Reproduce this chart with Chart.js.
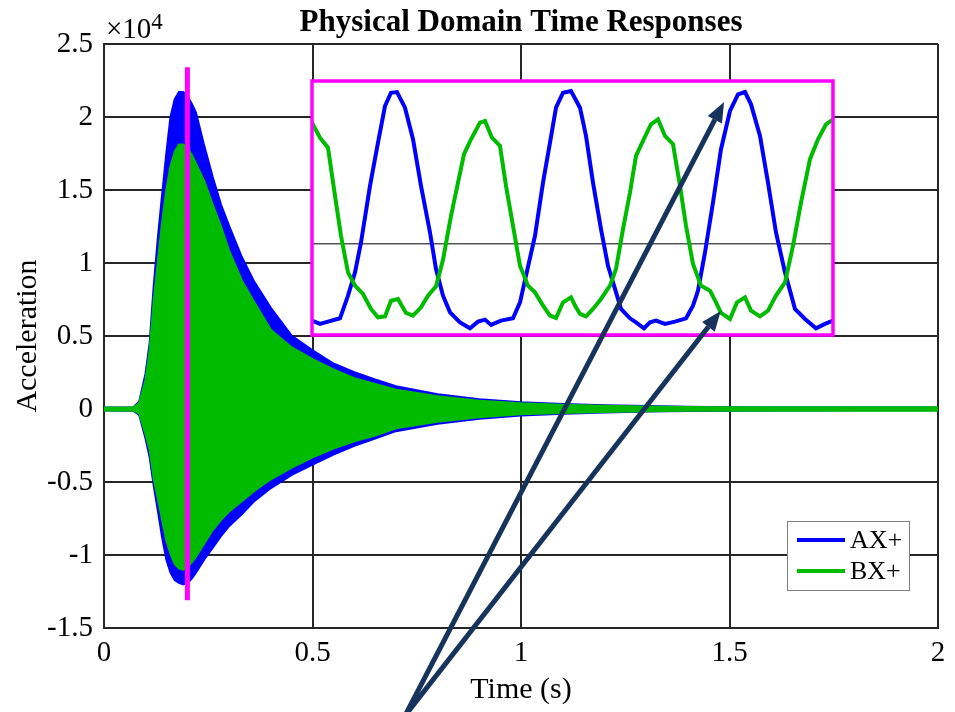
<!DOCTYPE html>
<html lang="en">
<head>
<meta charset="UTF-8">
<title>Physical Domain Time Responses</title>
<script src="https://cdn.jsdelivr.net/npm/chart.js"></script>
<style>
    html, body { margin: 0; padding: 0; background: #fff; }
    .wrap { position: relative; width: 955px; height: 712px; }
    .wrap canvas { position: absolute; left: 0; top: 0; }
    #insetChart { pointer-events: none; }
</style>
</head>
<body>
<div class="wrap">
    <canvas id="mainChart" width="955" height="712"></canvas>
    <canvas id="insetChart" width="955" height="712"></canvas>
</div>
<script>
// ---- data ----
const chartTitle = 'Physical Domain Time Responses';
const seriesNames = ['AX+', 'BX+'];
const xTicks = [0, 0.5, 1, 1.5, 2];
const yTicks = [-15000, -10000, -5000, 0, 5000, 10000, 15000, 20000, 25000];

// envelope of the dense oscillation (time in s, acceleration)
const tEnv = [0, 0.07, 0.085, 0.1, 0.11, 0.12, 0.13, 0.14, 0.15, 0.16, 0.17, 0.18, 0.19, 0.2, 0.21, 0.22, 0.24, 0.26, 0.28, 0.3,
              0.33, 0.36, 0.4, 0.45, 0.5, 0.55, 0.6, 0.65, 0.7, 0.8, 0.9, 1.0, 1.1, 1.2, 1.3, 1.4, 1.5, 1.6, 1.8, 2.0];
const axUpper = [80, 100, 500, 2400, 4500, 8500, 11800, 14700, 17500, 20000, 21200, 21700, 21700, 21400, 20900, 20300, 18000, 15900, 14000, 12500,
                 10400, 8700, 6900, 5000, 4000, 3100, 2500, 2000, 1550, 1000, 650, 450, 320, 240, 180, 140, 110, 90, 80, 80];
const axLower = [-80, -100, -400, -2000, -3300, -5300, -7000, -8800, -10300, -11200, -11700, -11900, -12000, -11900, -11600, -11200, -10300, -9500, -8700, -8000,
                 -7200, -6300, -5400, -4500, -3800, -3100, -2500, -2000, -1500, -1000, -650, -420, -300, -220, -160, -120, -100, -80, -70, -70];
const bxUpper = [80, 100, 400, 2000, 4000, 7500, 10200, 12800, 15000, 16600, 17600, 18100, 18100, 17900, 17400, 16800, 15600, 14000, 12500, 10800,
                 8800, 7300, 5400, 4200, 3400, 2700, 2100, 1700, 1300, 850, 550, 370, 270, 200, 150, 120, 100, 100, 100, 100];
const bxLower = [-80, -100, -300, -1700, -2800, -4800, -6200, -7600, -9000, -9900, -10600, -10900, -11000, -10800, -10500, -10100, -9200, -8300, -7600, -7000,
                 -6300, -5600, -4800, -4000, -3300, -2700, -2200, -1800, -1300, -850, -550, -350, -250, -180, -140, -110, -100, -100, -100, -100];

// magenta marker at t = 0.2 s
const markerT = 0.2;
const markerRange = [-13100, 23400];

// zoomed window (time in ms)
const insetTimeAX = [175.0, 175.8, 176.6, 177.8, 178.6, 179.3, 179.9, 180.8, 181.6, 182.3,
                     182.9, 183.5, 184.3, 185.1, 185.9, 186.8, 187.4, 188.1, 188.8, 189.8,
                     190.8, 191.6, 192.3, 192.9, 193.9, 195.1, 195.8, 196.4, 197.3, 198.1,
                     198.8, 199.4, 200.1, 200.9, 201.8, 202.4, 203.1, 203.9, 204.6, 205.3,
                     205.9, 206.8, 207.4, 208.2, 208.8, 209.4, 210.3, 211.3, 212.4, 213.1,
                     213.6, 214.3, 215.1, 215.9, 216.8, 217.6, 218.3, 218.9, 219.8, 220.6,
                     221.4, 222.3, 223.3, 224.3, 225.4, 226.3, 227.1];
const insetAX = [-11040, -11510, -11190, -10710, -7470, -4140, 140, 8240, 14430, 19670,
                 21570, 21670, 19430, 14910, 8240, 1570, -3660, -7470, -9860, -11290,
                 -12140, -11190, -10900, -11660, -11040, -10710, -8430, -4610, 1100, 8710,
                 14430, 19430, 21570, 21810, 19430, 15390, 8710, 2060, -3190, -6510,
                 -9370, -10710, -11290, -12140, -11290, -11040, -11510, -11190, -10710, -8900,
                 -6760, -1290, 5860, 13490, 18960, 21340, 21670, 19910, 15390, 8710,
                 1570, -4140, -9370, -10800, -12140, -11510, -11040];
const insetTimeBX = [175.0, 175.8, 176.6, 177.3, 177.9, 178.6, 179.3, 180.1, 180.9, 181.6,
                     182.3, 182.9, 183.6, 184.4, 185.1, 185.9, 186.6, 187.4, 188.1, 188.9,
                     189.6, 190.2, 190.9, 191.8, 192.3, 193.0, 193.8, 194.4, 195.1, 195.8,
                     196.6, 197.3, 198.1, 198.8, 199.4, 200.1, 200.9, 201.4, 201.8, 202.4,
                     203.1, 203.9, 204.8, 205.4, 206.1, 206.8, 207.4, 208.1, 208.9, 209.6,
                     210.3, 211.1, 211.8, 212.4, 213.1, 213.9, 214.8, 215.4, 215.9, 216.8,
                     217.5, 218.3, 218.9, 219.8, 220.6, 221.4, 222.3, 223.1, 223.9, 224.8,
                     225.6, 226.4, 227.1];
const insetBX = [17290, 15140, 13710, 6810, 1100, -4140, -6040, -7230, -9370, -10570,
                 -10430, -8190, -7940, -9940, -10330, -9140, -7470, -6140, -2330, 3960,
                 8710, 12770, 14910, 17290, 17530, 15140, 13960, 8240, 2530, -3190,
                 -6040, -7000, -8900, -10330, -10660, -8430, -7710, -9140, -10090, -10430,
                 -9370, -7940, -6040, -3660, 2060, 7290, 12530, 14670, 17060, 17770,
                 15390, 14200, 8240, 2530, -2940, -6040, -6760, -8430, -9940, -10800,
                 -8430, -7710, -9610, -10430, -9610, -7470, -5570, -330, 5860, 12060,
                 14910, 17060, 17770];
const insetTimeRange = [175.0, 227.1];
const insetYRange = [-13100, 23250];

// annotation arrows, in main-axes data units (time s, acceleration)
const arrowStart = [0.722, -21000];
const arrowTips = [[1.487, 21030], [1.479, 6710]];

// ---- styles ----
const SERIF = "'Liberation Serif', 'Times New Roman', serif";
const BLUE = '#0000ff';
const GREEN = '#00bb00';
const MAGENTA = '#ff00ff';
const NAVY = '#17335c';
const AXIS = '#262626';

function pts(xs, ys) {
    return xs.map((x, i) => ({ x: x, y: ys[i] }));
}

// title over the axes, exponent label, legend box inside the axes
const extras = {
    id: 'extras',
    afterDraw(chart) {
        const ctx = chart.ctx;
        const a = chart.chartArea;
        ctx.save();
        ctx.fillStyle = '#000';
        ctx.textAlign = 'center';
        ctx.textBaseline = 'middle';
        ctx.font = 'bold 31px ' + SERIF;
        ctx.fillText(chartTitle, (a.left + a.right) / 2, a.top - 21);

        ctx.textBaseline = 'alphabetic';
        ctx.textAlign = 'left';
        ctx.font = '29px ' + SERIF;
        ctx.fillText('×10', a.left + 2, a.top - 6);
        let w = ctx.measureText('×10').width;
        ctx.font = '23px ' + SERIF;
        ctx.fillText('4', a.left + 2 + w, a.top - 15);

        // legend
        const x0 = a.right - 151, y0 = a.bottom - 107;
        ctx.fillStyle = '#fff';
        ctx.fillRect(x0, y0, 122, 69);
        ctx.strokeStyle = '#808080';
        ctx.lineWidth = 1;
        ctx.strokeRect(x0 + 0.5, y0 + 0.5, 122, 69);
        const cols = [BLUE, GREEN];
        ctx.font = '26px ' + SERIF;
        ctx.textBaseline = 'middle';
        seriesNames.forEach((name, i) => {
            const y = y0 + 19 + i * 31;
            ctx.strokeStyle = cols[i];
            ctx.lineWidth = 4;
            ctx.beginPath();
            ctx.moveTo(x0 + 10, y);
            ctx.lineTo(x0 + 58, y);
            ctx.stroke();
            ctx.fillStyle = '#000';
            ctx.fillText(name, x0 + 63, y + 1);
        });
        ctx.restore();
    }
};

const mainChart = new Chart(document.getElementById('mainChart'), {
    type: 'line',
    data: {
        datasets: [
            { data: pts([markerT, markerT], markerRange), borderColor: MAGENTA, borderWidth: 5 },
            { label: seriesNames[1], data: pts(tEnv, bxUpper), borderColor: GREEN, backgroundColor: GREEN, borderWidth: 2.5, fill: '+1' },
            { data: pts(tEnv, bxLower), borderColor: GREEN, borderWidth: 2.5 },
            { label: seriesNames[0], data: pts(tEnv, axUpper), borderColor: BLUE, backgroundColor: BLUE, borderWidth: 2.5, fill: '+1' },
            { data: pts(tEnv, axLower), borderColor: BLUE, borderWidth: 2.5 }
        ]
    },
    options: {
        responsive: false,
        animation: false,
        events: [],
        devicePixelRatio: 1,
        elements: { point: { radius: 0 }, line: { tension: 0 } },
        layout: { padding: { left: 0, top: 44, right: 17, bottom: 0 } },
        plugins: {
            legend: { display: false },
            tooltip: { enabled: false },
            title: { display: false }
        },
        scales: {
            x: {
                type: 'linear',
                min: 0, max: 2,
                afterBuildTicks: s => { s.ticks = xTicks.map(v => ({ value: v })); },
                afterFit: s => { s.height = 84; },
                ticks: { color: '#000', font: { family: SERIF, size: 29 }, padding: 8, maxRotation: 0, callback: v => String(v) },
                grid: { color: AXIS, lineWidth: 2, drawTicks: false },
                border: { display: true, color: AXIS, width: 2 },
                title: { display: true, text: 'Time (s)', color: '#000', font: { family: SERIF, size: 30 }, padding: { top: 0, bottom: 4 } }
            },
            y: {
                min: -15000, max: 25000,
                afterBuildTicks: s => { s.ticks = yTicks.map(v => ({ value: v })); },
                afterFit: s => { s.width = 104; },
                ticks: { color: '#000', font: { family: SERIF, size: 29 }, padding: 11, callback: v => String(v / 1e4) },
                grid: { color: AXIS, lineWidth: 2, drawTicks: false },
                border: { display: true, color: AXIS, width: 2 },
                title: { display: true, text: 'Acceleration', color: '#000', font: { family: SERIF, size: 30 }, padding: { top: 10, bottom: 0 } }
            }
        }
    },
    plugins: [extras]
});

function drawArrow(ctx, x0, y0, x1, y1) {
    const ang = Math.atan2(y1 - y0, x1 - x0);
    const head = 20, half = 8;
    const bx = x1 - head * Math.cos(ang);
    const by = y1 - head * Math.sin(ang);
    ctx.beginPath();
    ctx.moveTo(x0, y0);
    ctx.lineTo(bx, by);
    ctx.stroke();
    ctx.beginPath();
    ctx.moveTo(x1, y1);
    ctx.lineTo(bx + half * Math.sin(ang), by - half * Math.cos(ang));
    ctx.lineTo(bx - half * Math.sin(ang), by + half * Math.cos(ang));
    ctx.closePath();
    ctx.fill();
}

// inset box background / frame, plus the arrows on top of everything
const insetFrame = {
    id: 'insetFrame',
    beforeDraw(chart) {
        const a = chart.chartArea;
        chart.ctx.save();
        chart.ctx.fillStyle = '#fff';
        chart.ctx.fillRect(a.left, a.top, a.right - a.left, a.bottom - a.top);
        chart.ctx.restore();
    },
    afterDraw(chart) {
        const ctx = chart.ctx;
        const a = chart.chartArea;
        ctx.save();
        ctx.strokeStyle = MAGENTA;
        ctx.lineWidth = 3.5;
        ctx.strokeRect(a.left, a.top, a.right - a.left, a.bottom - a.top);

        const sx = mainChart.scales.x, sy = mainChart.scales.y;
        ctx.strokeStyle = NAVY;
        ctx.fillStyle = NAVY;
        ctx.lineWidth = 5;
        const px0 = sx.getPixelForValue(arrowStart[0]);
        const py0 = sy.getPixelForValue(arrowStart[1]);
        arrowTips.forEach(t => {
            drawArrow(ctx, px0, py0, sx.getPixelForValue(t[0]), sy.getPixelForValue(t[1]));
        });
        ctx.restore();
    }
};

new Chart(document.getElementById('insetChart'), {
    type: 'line',
    data: {
        datasets: [
            { label: seriesNames[1], data: pts(insetTimeBX, insetBX), borderColor: GREEN, borderWidth: 4 },
            { label: seriesNames[0], data: pts(insetTimeAX, insetAX), borderColor: BLUE, borderWidth: 4 }
        ]
    },
    options: {
        responsive: false,
        animation: false,
        events: [],
        devicePixelRatio: 1,
        elements: { point: { radius: 0 }, line: { tension: 0 } },
        layout: { padding: { left: 312, top: 81, right: 122, bottom: 377 } },
        plugins: { legend: { display: false }, tooltip: { enabled: false } },
        scales: {
            x: { type: 'linear', min: insetTimeRange[0], max: insetTimeRange[1], display: false },
            y: {
                min: insetYRange[0], max: insetYRange[1],
                afterBuildTicks: s => { s.ticks = [{ value: 0 }]; },
                afterFit: s => { s.width = 0; },
                ticks: { display: false },
                grid: { color: '#555', lineWidth: 1.5, drawTicks: false },
                border: { display: false }
            }
        }
    },
    plugins: [insetFrame]
});
</script>
</body>
</html>
